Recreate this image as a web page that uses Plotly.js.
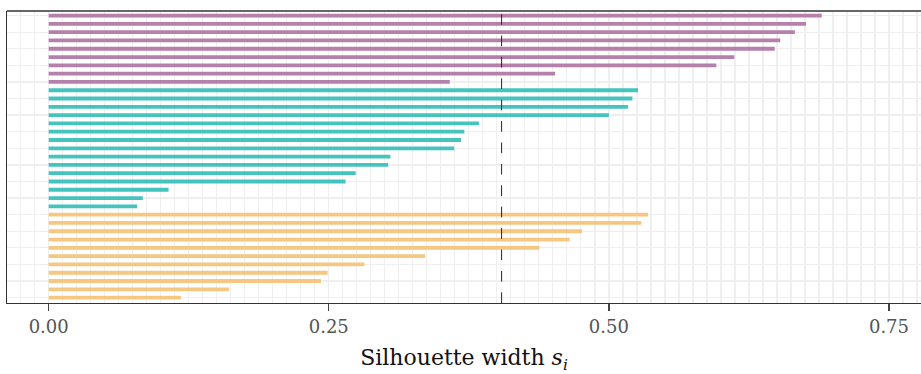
<!DOCTYPE html>
<html>
<head>
<meta charset="utf-8">
<script src="https://cdn.plot.ly/plotly-3.0.1.min.js"></script>
<style>html,body{margin:0;padding:0;overflow:hidden;background:#fff;}</style>
</head>
<body>
<div id="chart" style="width:921px;height:374px;"></div>
<script>
// Silhouette widths per cluster, ordered top to bottom as drawn
const cluster1Widths = [0.690, 0.676, 0.666, 0.653, 0.648, 0.612, 0.596, 0.452, 0.358];
const cluster2Widths = [0.526, 0.521, 0.517, 0.500, 0.384, 0.371, 0.368, 0.362, 0.305, 0.303, 0.274, 0.265, 0.107, 0.084, 0.079];
const cluster3Widths = [0.535, 0.529, 0.476, 0.465, 0.438, 0.336, 0.282, 0.249, 0.243, 0.161, 0.118];
const clusterColors = ["#B580AA", "#45C3BE", "#F5C780"];
const xTickVals = [0, 0.25, 0.5, 0.75];
const xTickText = ["0.00", "0.25", "0.50", "0.75"];

const groups = [cluster1Widths, cluster2Widths, cluster3Widths];
const allWidths = groups.flat();
const avgWidth = allWidths.reduce((a, b) => a + b, 0) / allWidths.length;

let idx = 0;
const traces = groups.map((g, gi) => {
  const ys = g.map(() => idx++);
  return {
    type: "bar",
    orientation: "h",
    x: g,
    y: ys,
    width: 0.46,
    marker: {color: clusterColors[gi], line: {width: 0}},
    hoverinfo: "x",
    showlegend: false
  };
});

const gridCol = "#EFEFEF";
const serif = "'DejaVu Serif', 'Liberation Serif', serif";
const layout = {
  width: 921,
  height: 374,
  margin: {l: 7, r: 0, t: 11, b: 71},
  paper_bgcolor: "#fff",
  plot_bgcolor: "#fff",
  barmode: "overlay",
  font: {family: serif, color: "#000"},
  xaxis: {
    range: [-0.0372, 0.7786],
    tickvals: xTickVals,
    ticktext: xTickText,
    ticks: "outside",
    ticklen: 7,
    tickwidth: 1.3,
    tickcolor: "#444",
    tickfont: {size: 18, color: "#555", family: serif},
    showline: true,
    linecolor: "#333",
    linewidth: 1.3,
    showgrid: true,
    gridcolor: gridCol,
    gridwidth: 1.3,
    zeroline: false,
    minor: {dtick: 0.0125, tick0: 0, showgrid: true, gridcolor: gridCol, gridwidth: 1.3, ticks: ""},
    title: {text: "Silhouette width <i>s</i><sub><i>i</i></sub>", font: {size: 22, color: "#111", family: serif}, standoff: 17}
  },
  yaxis: {
    range: [34.65, -0.55],
    tick0: 0,
    dtick: 2,
    showticklabels: false,
    ticks: "",
    showgrid: true,
    gridcolor: gridCol,
    gridwidth: 1.3,
    zeroline: false,
    showline: true,
    linecolor: "#333",
    linewidth: 1.3
  },
  shapes: [
    {type: "line", xref: "x", yref: "paper", x0: avgWidth, x1: avgWidth, y0: 0, y1: 1,
     line: {color: "#5A1010", width: 1, dash: "10.7px,10.7px"}, layer: "above"},
    {type: "line", xref: "paper", yref: "paper", x0: 0, x1: 1, y0: 1, y1: 1,
     line: {color: "#333", width: 1.3}, layer: "above"}
  ]
};

Plotly.newPlot("chart", traces, layout, {displayModeBar: false, staticPlot: true});
</script>
</body>
</html>
